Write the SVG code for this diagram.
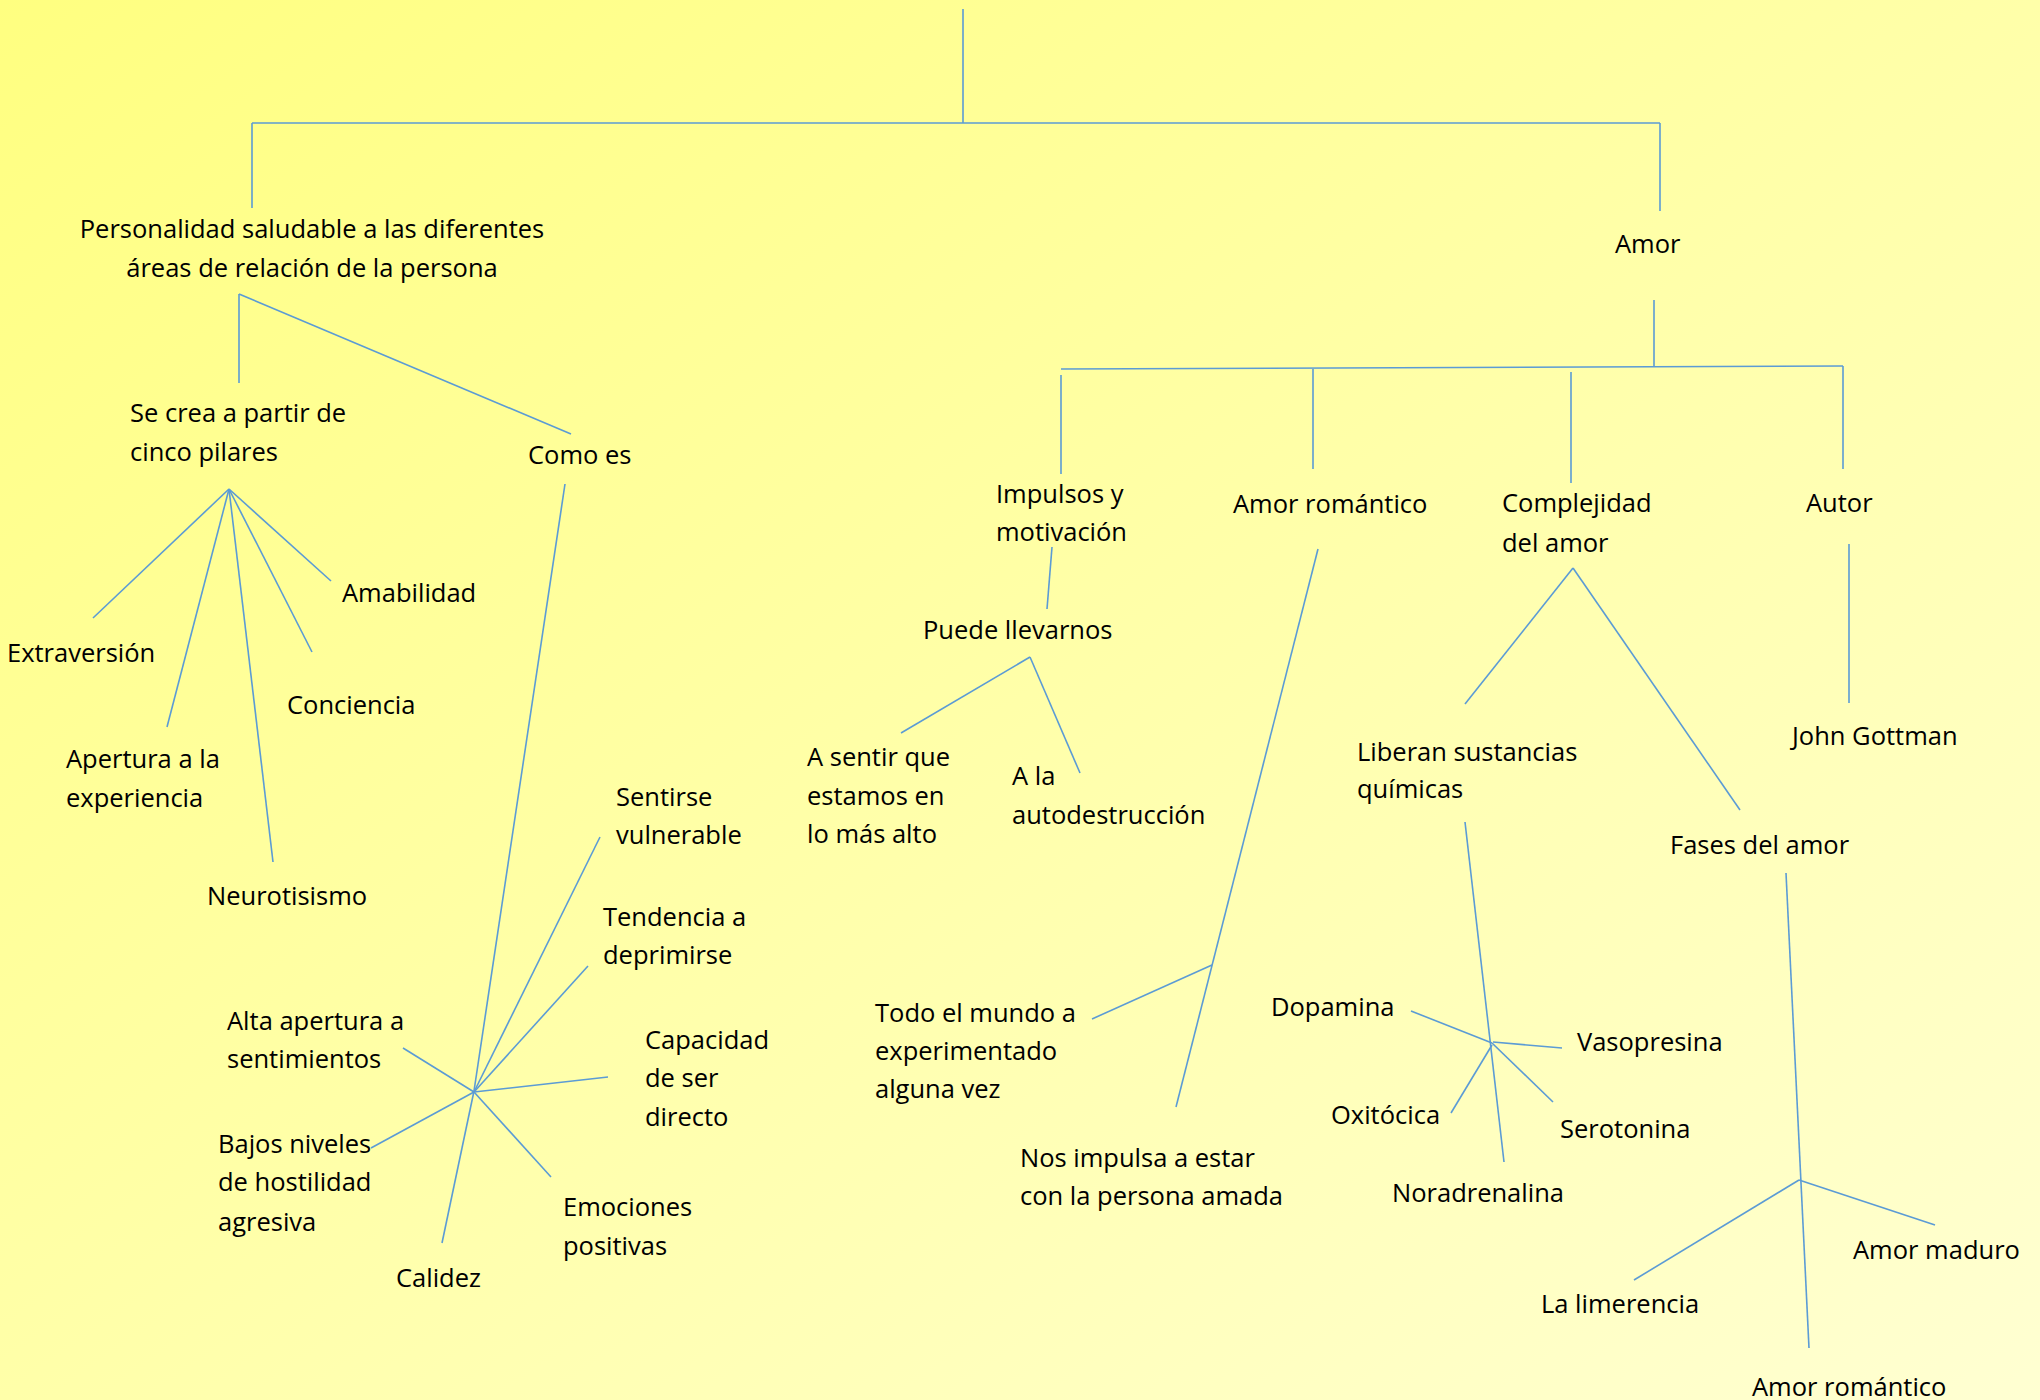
<svg xmlns="http://www.w3.org/2000/svg" width="2040" height="1400" viewBox="0 0 2040 1400">
<defs>
<linearGradient id="bg" x1="0" y1="0" x2="1" y2="1">
<stop offset="0" stop-color="#FFFF80"/>
<stop offset="1" stop-color="#FFFFD2"/>
</linearGradient>
</defs>
<style>
text{font-family:"Open Sans","Noto Sans","Liberation Sans",sans-serif;font-size:25.5px;fill:#000}
.c line{stroke:#5B9BD5;stroke-width:1.6;fill:none}
</style>
<rect x="0" y="0" width="2040" height="1400" fill="url(#bg)"/>
<g id="connectors" class="c">
<line x1="963" y1="9" x2="963" y2="123"/>
<line x1="252" y1="123" x2="1660" y2="123"/>
<line x1="252" y1="123" x2="252" y2="208"/>
<line x1="1660" y1="123" x2="1660" y2="211"/>
<line x1="239" y1="294" x2="239" y2="383"/>
<line x1="239" y1="294" x2="571" y2="434"/>
<line x1="229" y1="489" x2="93" y2="618"/>
<line x1="229" y1="489" x2="167" y2="727"/>
<line x1="229" y1="489" x2="273" y2="862"/>
<line x1="229" y1="489" x2="312" y2="652"/>
<line x1="229" y1="489" x2="331" y2="581"/>
<line x1="565" y1="484" x2="474" y2="1091"/>
<line x1="474" y1="1091" x2="442" y2="1243"/>
<line x1="600" y1="837" x2="474" y2="1092"/>
<line x1="588" y1="966" x2="474" y2="1092"/>
<line x1="403" y1="1048" x2="474" y2="1092"/>
<line x1="474" y1="1092" x2="608" y2="1077"/>
<line x1="474" y1="1092" x2="371" y2="1148"/>
<line x1="474" y1="1092" x2="551" y2="1177"/>
<line x1="1654" y1="300" x2="1654" y2="367"/>
<line x1="1061" y1="369" x2="1843" y2="366"/>
<line x1="1061" y1="375" x2="1061" y2="474"/>
<line x1="1313" y1="369" x2="1313" y2="469"/>
<line x1="1571" y1="372" x2="1571" y2="483"/>
<line x1="1843" y1="366" x2="1843" y2="469"/>
<line x1="1052" y1="547" x2="1047" y2="609"/>
<line x1="1030" y1="657" x2="901" y2="733"/>
<line x1="1030" y1="657" x2="1080" y2="773"/>
<line x1="1318" y1="549" x2="1176" y2="1107"/>
<line x1="1212" y1="965" x2="1092" y2="1019"/>
<line x1="1573" y1="568" x2="1465" y2="704"/>
<line x1="1573" y1="568" x2="1740" y2="810"/>
<line x1="1849" y1="544" x2="1849" y2="703"/>
<line x1="1465" y1="822" x2="1504" y2="1162"/>
<line x1="1411" y1="1011" x2="1492" y2="1043"/>
<line x1="1493" y1="1042" x2="1562" y2="1048"/>
<line x1="1492" y1="1045" x2="1451" y2="1113"/>
<line x1="1492" y1="1043" x2="1553" y2="1102"/>
<line x1="1786" y1="873" x2="1809" y2="1348"/>
<line x1="1799" y1="1180" x2="1634" y2="1280"/>
<line x1="1799" y1="1180" x2="1935" y2="1225"/>
</g>
<g id="n-personalidad"><text x="312" y="238" text-anchor="middle">Personalidad saludable a las diferentes</text><text x="312" y="277" text-anchor="middle">áreas de relación de la persona</text></g>
<g id="n-amor"><text x="1615" y="253">Amor</text></g>
<g id="n-secrea"><text x="130" y="422">Se crea a partir de</text><text x="130" y="461">cinco pilares</text></g>
<g id="n-comoes"><text x="528" y="464">Como es</text></g>
<g id="n-amabilidad"><text x="342" y="602">Amabilidad</text></g>
<g id="n-extraversion"><text x="7" y="662">Extraversión</text></g>
<g id="n-conciencia"><text x="287" y="714">Conciencia</text></g>
<g id="n-apertura"><text x="66" y="768">Apertura a la</text><text x="66" y="807">experiencia</text></g>
<g id="n-neurotisismo"><text x="207" y="905">Neurotisismo</text></g>
<g id="n-sentirse"><text x="616" y="806">Sentirse</text><text x="616" y="844">vulnerable</text></g>
<g id="n-tendencia"><text x="603" y="926">Tendencia a</text><text x="603" y="964">deprimirse</text></g>
<g id="n-alta"><text x="227" y="1030">Alta apertura a</text><text x="227" y="1068">sentimientos</text></g>
<g id="n-capacidad"><text x="645" y="1049">Capacidad</text><text x="645" y="1087">de ser</text><text x="645" y="1126">directo</text></g>
<g id="n-bajos"><text x="218" y="1153">Bajos niveles</text><text x="218" y="1191">de hostilidad</text><text x="218" y="1231">agresiva</text></g>
<g id="n-emociones"><text x="563" y="1216">Emociones</text><text x="563" y="1255">positivas</text></g>
<g id="n-calidez"><text x="396" y="1287">Calidez</text></g>
<g id="n-impulsos"><text x="996" y="503">Impulsos y</text><text x="996" y="541">motivación</text></g>
<g id="n-amorromantico"><text x="1233" y="513">Amor romántico</text></g>
<g id="n-complejidad"><text x="1502" y="512">Complejidad</text><text x="1502" y="552">del amor</text></g>
<g id="n-autor"><text x="1806" y="512">Autor</text></g>
<g id="n-puede"><text x="923" y="639">Puede llevarnos</text></g>
<g id="n-asentir"><text x="807" y="766">A sentir que</text><text x="807" y="805">estamos en</text><text x="807" y="843">lo más alto</text></g>
<g id="n-ala"><text x="1012" y="785">A la</text><text x="1012" y="824">autodestrucción</text></g>
<g id="n-liberan"><text x="1357" y="761">Liberan sustancias</text><text x="1357" y="798">químicas</text></g>
<g id="n-john"><text x="1792" y="745">John Gottman</text></g>
<g id="n-fases"><text x="1670" y="854">Fases del amor</text></g>
<g id="n-todo"><text x="875" y="1022">Todo el mundo a</text><text x="875" y="1060">experimentado</text><text x="875" y="1098">alguna vez</text></g>
<g id="n-nos"><text x="1020" y="1167">Nos impulsa a estar</text><text x="1020" y="1205">con la persona amada</text></g>
<g id="n-dopamina"><text x="1271" y="1016">Dopamina</text></g>
<g id="n-vasopresina"><text x="1577" y="1051">Vasopresina</text></g>
<g id="n-oxitocica"><text x="1331" y="1124">Oxitócica</text></g>
<g id="n-serotonina"><text x="1560" y="1138">Serotonina</text></g>
<g id="n-noradrenalina"><text x="1392" y="1202">Noradrenalina</text></g>
<g id="n-maduro"><text x="1853" y="1259">Amor maduro</text></g>
<g id="n-limerencia"><text x="1541" y="1313">La limerencia</text></g>
<g id="n-romantico2"><text x="1752" y="1396">Amor romántico</text></g>
</svg>
